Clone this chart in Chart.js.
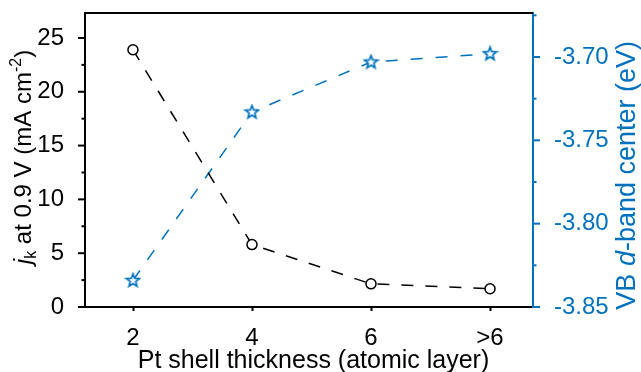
<!DOCTYPE html>
<html><head><meta charset="utf-8">
<script src="https://cdn.jsdelivr.net/npm/chart.js@4.4.1/dist/chart.umd.min.js"></script>
<style>html,body{margin:0;padding:0;background:#fff}#wrap{width:641px;height:372px}</style>
</head><body><div id="wrap"><canvas id="c" width="641" height="372"></canvas></div>
<script>
const categories = ['2', '4', '6', '>6'];
const jkValues = [23.9, 5.8, 2.15, 1.7];
const dBandValues = [-3.834, -3.733, -3.703, -3.698];
const leftTicks = [0, 5, 10, 15, 20, 25];
const leftMinor = [2.5, 7.5, 12.5, 17.5, 22.5];
const rightTicks = [-3.85, -3.80, -3.75, -3.70];
const rightMinor = [-3.825, -3.775, -3.725, -3.675];

const BLUE = '#0072BD';
const FONT = 'Liberation Sans, Arial, Helvetica, sans-serif';

function makeStar() {
  const c = document.createElement('canvas');
  c.width = 17; c.height = 17;
  const g = c.getContext('2d');
  const cx = 8.5, cy = 8.8, R = 6.8, r = 2.9;
  g.beginPath();
  for (let i = 0; i < 10; i++) {
    const rad = i % 2 === 0 ? R : r;
    const ang = -Math.PI / 2 + i * Math.PI / 5;
    const px = cx + rad * Math.cos(ang), py = cy + rad * Math.sin(ang);
    if (i === 0) g.moveTo(px, py); else g.lineTo(px, py);
  }
  g.closePath();
  g.fillStyle = '#fff'; g.fill();
  g.strokeStyle = BLUE; g.lineWidth = 1.7; g.lineJoin = 'miter'; g.stroke();
  return c;
}

function measureRich(ctx, pieces) {
  let total = 0;
  pieces.forEach(p => { ctx.font = p.font; p.w = ctx.measureText(p.t).width; total += p.w; });
  return total;
}
function paintRich(ctx, pieces, color, startX) {
  let x = startX;
  ctx.fillStyle = color;
  ctx.textBaseline = 'alphabetic';
  ctx.textAlign = 'left';
  pieces.forEach(p => { ctx.font = p.font; ctx.fillText(p.t, x, p.dy || 0); x += p.w; });
}

const decor = {
  id: 'decor',
  afterDraw(chart) {
    const { ctx, chartArea: a, scales } = chart;
    ctx.save();
    ctx.lineWidth = 2;
    ctx.strokeStyle = '#000';
    ctx.beginPath(); ctx.moveTo(a.left - 1, a.top); ctx.lineTo(a.right, a.top); ctx.stroke();
    const tick = (x1, y1, x2, y2) => { ctx.beginPath(); ctx.moveTo(x1, y1); ctx.lineTo(x2, y2); ctx.stroke(); };
    const y = scales.y;
    leftTicks.forEach(v => { const p = y.getPixelForValue(v); tick(a.left, p, a.left - 7, p); });
    leftMinor.forEach(v => { const p = y.getPixelForValue(v); tick(a.left, p, a.left - 3.5, p); });
    const xs = scales.x;
    categories.forEach((c, i) => { const p = Math.round(xs.getPixelForValue(i)) + 0.5; tick(p, a.bottom, p, a.bottom + 4); });
    ctx.strokeStyle = BLUE;
    const y1 = scales.y1;
    rightTicks.forEach(v => { const p = y1.getPixelForValue(v); tick(a.right, p, a.right + 7, p); });
    rightMinor.forEach(v => { const p = y1.getPixelForValue(v); tick(a.right, p, a.right + 3.5, p); });

    const L = [
      { t: 'j', font: 'italic 24px ' + FONT },
      { t: 'k', font: '16px ' + FONT, dy: 5 },
      { t: ' at 0.9 V (mA cm', font: '24px ' + FONT },
      { t: '-2', font: '16px ' + FONT, dy: -10 },
      { t: ')', font: '24px ' + FONT }
    ];
    let w = measureRich(ctx, L);
    ctx.save(); ctx.translate(31, 157); ctx.rotate(-Math.PI / 2);
    paintRich(ctx, L, '#000', -w / 2); ctx.restore();

    const R = [
      { t: 'VB ', font: '27px ' + FONT },
      { t: 'd', font: 'italic 27px ' + FONT },
      { t: '-band center (eV)', font: '27px ' + FONT }
    ];
    w = measureRich(ctx, R);
    ctx.save(); ctx.translate(635, 41 + w); ctx.rotate(-Math.PI / 2);
    paintRich(ctx, R, BLUE, 0); ctx.restore();

    ctx.font = '25px ' + FONT; ctx.fillStyle = '#000'; ctx.textAlign = 'center'; ctx.textBaseline = 'alphabetic';
    ctx.fillText('Pt shell thickness (atomic layer)', 313.5, 368);
    ctx.restore();
  }
};

function fitV(width) {
  return s => { s.width = width; s.paddingTop = 0; s.paddingBottom = 0; };
}

new Chart(document.getElementById('c'), {
  type: 'line',
  data: {
    datasets: [
      {
        data: categories.map((c, i) => ({ x: i, y: jkValues[i] })),
        yAxisID: 'y',
        borderColor: '#000', borderWidth: 1.5, borderDash: [12, 12],
        pointStyle: 'circle', pointRadius: 5, pointBorderWidth: 1.5,
        pointBorderColor: '#000', pointBackgroundColor: '#fff', tension: 0, fill: false
      },
      {
        data: categories.map((c, i) => ({ x: i, y: dBandValues[i] })),
        yAxisID: 'y1',
        borderColor: BLUE, borderWidth: 1.5, borderDash: [12, 13],
        pointStyle: makeStar(), pointRadius: 7, tension: 0, fill: false
      }
    ]
  },
  options: {
    responsive: false, animation: false, events: [],
    layout: { padding: { top: 13, left: 0, right: 0, bottom: 0 }, autoPadding: false },
    plugins: { legend: { display: false }, tooltip: { enabled: false } },
    scales: {
      x: {
        type: 'linear', min: -0.403, max: 3.361,
        afterBuildTicks: s => { s.ticks = categories.map((c, i) => ({ value: i })); },
        afterFit: s => { s.height = 65; s.paddingLeft = 0; s.paddingRight = 0; },
        ticks: { callback: v => categories[v], color: '#000', font: { family: FONT, size: 24 }, padding: 9, maxRotation: 0, autoSkip: false },
        grid: { display: false },
        border: { display: true, color: '#000', width: 2 }
      },
      y: {
        position: 'left', min: 0, max: 27.32,
        afterBuildTicks: s => { s.ticks = leftTicks.map(v => ({ value: v })); },
        afterFit: fitV(85),
        ticks: { color: '#000', font: { family: FONT, size: 24 }, padding: 13 },
        grid: { display: false },
        border: { display: true, color: '#000', width: 2 }
      },
      y1: {
        position: 'right', min: -3.85, max: -3.6736,
        afterBuildTicks: s => { s.ticks = rightTicks.map(v => ({ value: v })); },
        afterFit: fitV(108),
        ticks: { callback: v => v.toFixed(2), color: BLUE, font: { family: FONT, size: 24 }, padding: 13 },
        grid: { display: false },
        border: { display: true, color: BLUE, width: 2 }
      }
    }
  },
  plugins: [decor]
});
</script>
</body></html>
